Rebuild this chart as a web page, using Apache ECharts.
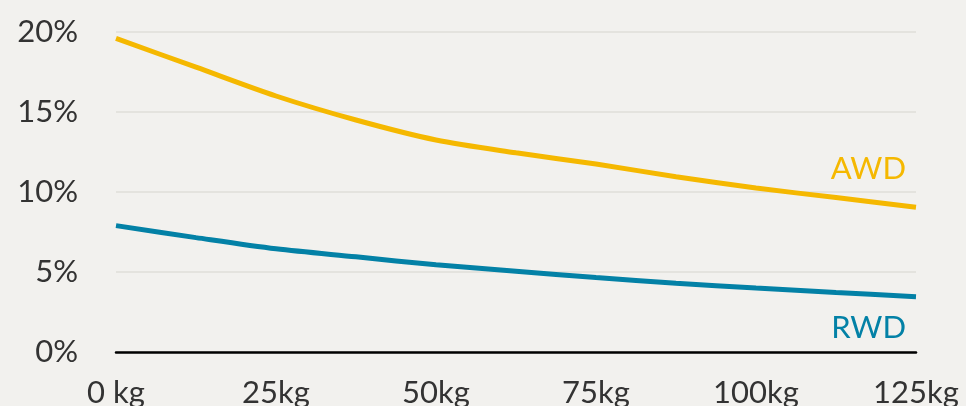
<!DOCTYPE html>
<html><head><meta charset="utf-8">
<script src="https://cdn.jsdelivr.net/npm/echarts@6/dist/echarts.min.js"></script>
<style>html,body{margin:0;padding:0;background:#f2f1ee;}#c{width:966px;height:406px;}</style>
</head><body><div id="c"></div>
<script>
const loads = [0, 12.5, 25, 37.5, 50, 62.5, 75, 87.5, 100, 112.5, 125];
const awd = [19.6, 17.8, 16.0, 14.5, 13.25, 12.45, 11.75, 10.95, 10.25, 9.65, 9.05];
const rwd = [7.9, 7.15, 6.45, 5.95, 5.45, 5.05, 4.65, 4.3, 4.0, 3.72, 3.45];
const yTicks = [0, 5, 10, 15, 20];
const xTicks = [0, 25, 50, 75, 100, 125];
const seriesNames = ['AWD', 'RWD'];
const colors = ['#f5b800', '#0381a6'];

const font = 'Lato, "Open Sans", sans-serif';
const chart = echarts.init(document.getElementById('c'));
const mk = (name, vals, color, offY) => ({
  name, type: 'line', smooth: 0.3, showSymbol: false,
  data: loads.map((x, i) => [x, vals[i]]),
  lineStyle: { color, width: 5 },
  itemStyle: { color },
  endLabel: {
    show: true, formatter: name, color, fontFamily: font, fontSize: 31,
    align: 'right', verticalAlign: 'middle', offset: [-18, offY]
  },
  z: 3
});
chart.setOption({
  backgroundColor: '#f2f1ee',
  animation: false,
  grid: { left: 116, right: 50, top: 32, bottom: 54, containLabel: false, outerBoundsMode: 'none' },
  xAxis: {
    type: 'value', min: 0, max: 125, interval: 25,
    axisLine: { show: true, lineStyle: { color: '#000', width: 2.5 }, onZero: true },
    axisTick: { show: false },
    splitLine: { show: false },
    axisLabel: {
      margin: 25, color: '#333', fontFamily: font, fontSize: 31,
      formatter: v => (xTicks.indexOf(v) === 0 ? v + ' kg' : v + 'kg')
    }
  },
  yAxis: {
    type: 'value', min: yTicks[0], max: yTicks[yTicks.length - 1], interval: 5,
    axisLine: { show: false }, axisTick: { show: false },
    splitLine: { lineStyle: { color: '#e4e3de', width: 2 } },
    axisLabel: { margin: 38, color: '#333', fontFamily: font, fontSize: 31, formatter: '{value}%' }
  },
  series: [mk(seriesNames[0], awd, colors[0], -38), mk(seriesNames[1], rwd, colors[1], 31)]
});
</script></body></html>
